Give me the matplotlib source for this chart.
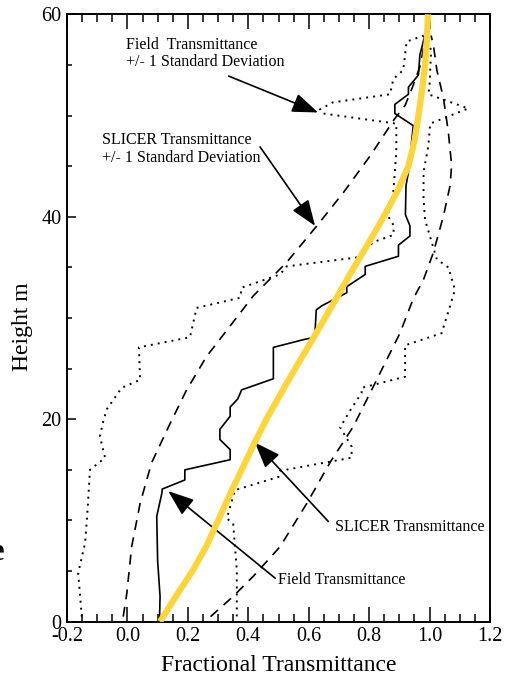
import matplotlib
matplotlib.use("Agg")
import matplotlib.pyplot as plt

plt.rcParams['font.family'] = ['Liberation Serif', 'DejaVu Serif']

# ---- data (x = fractional transmittance, h = height m) ----
field_x = [0.106, 0.108, 0.100, 0.097, 0.114, 0.115, 0.190, 0.190, 0.340, 0.340, 0.306, 0.306,
           0.340, 0.340, 0.365, 0.378, 0.483, 0.483, 0.588, 0.620, 0.625, 0.643, 0.726, 0.726,
           0.787, 0.787, 0.897, 0.897, 0.935, 0.935, 0.920, 0.922, 0.930, 0.946, 0.885, 0.885,
           0.930, 0.930, 0.963, 0.968, 0.980, 0.985]
field_h = [0.0, 2.5, 6.0, 10.4, 12.7, 13.1, 14.0, 15.0, 16.0, 17.0, 18.0, 19.0,
           20.3, 21.2, 22.0, 22.9, 24.0, 27.1, 27.9, 28.1, 30.8, 31.2, 32.5, 33.1,
           34.3, 35.1, 36.1, 37.2, 38.1, 39.1, 40.2, 43.1, 44.4, 49.0, 50.2, 51.1,
           52.1, 52.8, 54.0, 56.0, 57.4, 57.9]

field_lo_x = [-0.151, -0.163, -0.140, -0.132, -0.124, -0.074, -0.091, -0.080, -0.068, -0.019, 0.042,
              0.038, 0.207, 0.229, 0.373, 0.378, 0.505, 0.527, 0.764, 0.814, 0.880, 0.882, 0.862,
              0.880, 0.890, 0.890, 0.648, 0.637, 0.680, 0.869, 0.880, 0.913, 0.924, 0.980]
field_lo_h = [0.5, 4.8, 7.8, 11.0, 15.0, 16.2, 18.3, 19.8, 21.0, 23.1, 23.9,
              27.1, 28.1, 31.0, 32.0, 33.0, 34.3, 35.1, 36.0, 37.5, 38.2, 39.1, 40.1,
              42.4, 46.4, 49.2, 50.2, 50.6, 51.3, 52.1, 53.6, 54.5, 57.3, 57.9]

field_hi_x = [0.980, 1.005, 1.000, 0.996, 1.128, 1.002, 0.996, 0.980, 0.980, 0.985, 1.007, 1.024,
              1.062, 1.084, 1.068, 1.040, 0.919, 0.919, 0.775, 0.775, 0.740, 0.704, 0.742, 0.742,
              0.505, 0.500, 0.356, 0.329, 0.350, 0.362, 0.362, 0.362]
field_hi_h = [57.9, 56.5, 53.0, 52.1, 50.7, 49.2, 47.0, 44.4, 41.7, 39.7, 37.5, 35.8,
              35.0, 32.8, 31.2, 28.5, 27.3, 24.2, 23.1, 22.6, 21.0, 19.2, 17.3, 16.2,
              14.9, 14.3, 13.0, 10.2, 9.7, 5.1, 2.5, 0.5]

slicer_x = [0.108, 0.160, 0.215, 0.262, 0.300, 0.338, 0.378, 0.418, 0.460, 0.507, 0.555,
            0.605, 0.654, 0.702, 0.750, 0.800, 0.848, 0.893, 0.930, 0.950, 0.963, 0.975,
            0.985, 0.991, 0.995]
slicer_h = [0, 2.5, 5, 7.5, 10, 12.5, 15, 17.5, 20, 22.5, 25,
            27.5, 30, 32.5, 35, 37.5, 40, 42.5, 45, 47.5, 50, 52.5,
            55, 57.5, 60]

slicer_lo_x = [-0.014, -0.002, 0.014, 0.042, 0.080, 0.140, 0.196, 0.262, 0.306, 0.417, 0.527,
               0.627, 0.715, 0.803, 0.885, 0.919, 0.946, 0.970, 0.985]
slicer_lo_h = [0.5, 2.8, 7.4, 11.7, 15.7, 19.5, 22.9, 26.2, 27.9, 32.2, 35.5,
               39.1, 42.4, 46.0, 49.7, 51.0, 53.0, 55.0, 57.6]

slicer_hi_x = [0.275, 0.350, 0.417, 0.505, 0.594, 0.670, 0.748, 0.825, 0.902, 0.946, 0.980,
               1.013, 1.046, 1.068, 1.073, 1.062, 1.046, 1.024, 1.013, 1.005]
slicer_hi_h = [0.5, 2.5, 4.5, 7.4, 11.7, 15.7, 19.3, 23.9, 28.5, 31.9, 33.8,
               36.5, 40.1, 43.1, 45.1, 48.4, 51.7, 54.5, 56.9, 57.9]

x_ticks = [-0.2, 0.0, 0.2, 0.4, 0.6, 0.8, 1.0, 1.2]
x_tick_labels = ['-0.2', '0.0', '0.2', '0.4', '0.6', '0.8', '1.0', '1.2']
y_ticks = [0, 20, 40, 60]

# ---- figure ----
fig = plt.figure(figsize=(5.06, 6.75), dpi=100)
ax = fig.add_axes([67 / 506, 1 - 621.7 / 675, 423 / 506, (621.7 - 14.3) / 675])

ax.plot(field_lo_x, field_lo_h, color='black', lw=1.4, linestyle=(0, (1, 2.6)))
ax.plot(field_hi_x, field_hi_h, color='black', lw=1.4, linestyle=(0, (1, 2.6)))
ax.plot(slicer_lo_x, slicer_lo_h, color='black', lw=1.2, linestyle=(0, (6, 4.5)))
ax.plot(slicer_hi_x, slicer_hi_h, color='black', lw=1.2, linestyle=(0, (6, 4.5)))
ax.plot(field_x, field_h, color='black', lw=1.2)
ax.plot(slicer_x, slicer_h, color='#FDD53A', lw=4.5, solid_capstyle='butt',
        solid_joinstyle='round', zorder=5)

ax.set_xlim(-0.2, 1.2)
ax.set_ylim(0, 60)
ax.set_xticks(x_ticks)
ax.set_xticklabels(x_tick_labels)
ax.set_yticks(y_ticks)
ax.set_xticks([v / 20 for v in range(-4, 25)], minor=True)
ax.set_yticks(list(range(0, 61, 5)), minor=True)

ax.tick_params(axis='x', which='major', direction='in', length=11, width=1.1,
               top=True, bottom=True, labelsize=14.5, pad=4)
ax.tick_params(axis='x', which='minor', direction='in', length=6, width=1.1, top=True, bottom=True)
ax.tick_params(axis='y', which='major', direction='in', length=6.5, width=1.1,
               left=True, right=False, labelsize=14.5, pad=4)
ax.tick_params(axis='y', which='minor', direction='in', length=3.8, width=1.1, left=True, right=False)
for s in ax.spines.values():
    s.set_linewidth(1.4)

ax.set_xlabel('Fractional Transmittance', fontsize=17, labelpad=6)
ax.set_ylabel('Height m', fontsize=17)
ax.yaxis.set_label_coords(-0.080, 0.486)

arrow = dict(arrowstyle='-|>,head_length=0.8,head_width=0.3', color='black', lw=1.2,
             mutation_scale=20, shrinkA=0, shrinkB=0)
tfs = 11.5
ax.text(-0.005, 57.8, 'Field  Transmittance\n+/- 1 Standard Deviation', fontsize=tfs,
        ha='left', va='top', linespacing=1.15)
ax.annotate('', xy=(0.631, 50.3), xytext=(0.335, 53.9), arrowprops=arrow)

ax.text(-0.085, 48.4, 'SLICER Transmittance\n+/- 1 Standard Deviation', fontsize=tfs,
        ha='left', va='top', linespacing=1.15)
ax.annotate('', xy=(0.621, 39.1), xytext=(0.439, 46.9), arrowprops=arrow)

ax.text(0.687, 9.4, 'SLICER Transmittance', fontsize=tfs, ha='left', va='center')
ax.annotate('', xy=(0.422, 17.7), xytext=(0.665, 9.9), arrowprops=arrow)

ax.text(0.50, 4.1, 'Field Transmittance', fontsize=tfs, ha='left', va='center')
ax.annotate('', xy=(0.135, 12.9), xytext=(0.489, 4.3), arrowprops=arrow)

fig.text(4 / 506, 1 - 552 / 675, 'e', fontsize=22, fontweight='bold', ha='right', va='center')

fig.savefig('out.png', dpi=100)
